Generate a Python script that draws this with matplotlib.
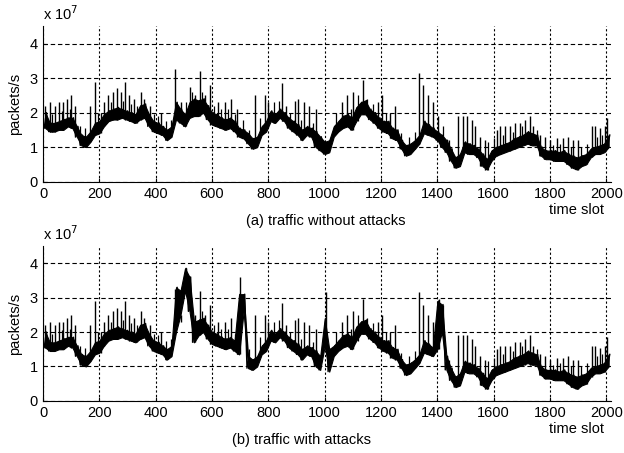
import matplotlib
matplotlib.use("Agg")
import matplotlib.pyplot as plt
import numpy as np

plt.rcParams['font.family'] = ['Liberation Sans', 'DejaVu Sans']

# band of the traffic (x 1e7 packets/s), one low/high pair per 16-slot block, slots 0..2000
block_start = np.arange(0, 2016, 16)
a_lo = [1.55, 1.45, 1.45, 1.50, 1.50, 1.60, 1.55, 1.30, 1.05, 1.00,
        1.15, 1.35, 1.40, 1.60, 1.75, 1.80, 1.80, 1.85, 1.80, 1.75,
        1.70, 1.80, 1.85, 1.60, 1.45, 1.40, 1.35, 1.20, 1.30, 1.80,
        1.70, 1.60, 1.85, 1.90, 1.90, 2.00, 1.80, 1.65, 1.60, 1.55,
        1.50, 1.55, 1.45, 1.30, 1.25, 1.10, 0.95, 1.00, 1.35, 1.45,
        1.75, 1.70, 1.85, 1.75, 1.55, 1.45, 1.35, 1.20, 1.35, 1.30,
        1.00, 0.90, 0.80, 0.85, 1.30, 1.45, 1.55, 1.60, 1.50, 1.75,
        1.95, 1.95, 1.80, 1.70, 1.55, 1.45, 1.40, 1.25, 1.20, 0.95,
        0.75, 0.80, 0.95, 1.10, 1.40, 1.35, 1.30, 1.20, 1.00, 0.85,
        0.60, 0.40, 0.45, 0.85, 0.80, 0.80, 0.70, 0.45, 0.35, 0.60,
        0.75, 0.80, 0.85, 0.90, 0.95, 1.00, 1.05, 1.10, 1.05, 1.05,
        0.75, 0.65, 0.65, 0.60, 0.60, 0.60, 0.50, 0.40, 0.35, 0.45,
        0.50, 0.70, 0.80, 0.80, 0.85, 1.00]
a_hi = [2.00, 1.70, 1.70, 1.75, 1.80, 1.85, 1.85, 1.60, 1.35, 1.30,
        1.45, 1.70, 1.75, 1.95, 2.05, 2.10, 2.15, 2.10, 2.05, 2.00,
        1.95, 2.20, 2.25, 1.95, 1.75, 1.70, 1.60, 1.50, 1.60, 2.30,
        2.10, 1.95, 2.30, 2.40, 2.35, 2.40, 2.20, 2.00, 1.95, 1.85,
        1.80, 1.85, 1.75, 1.55, 1.50, 1.40, 1.25, 1.30, 1.60, 1.75,
        2.05, 1.95, 2.10, 2.00, 1.85, 1.75, 1.65, 1.50, 1.60, 1.55,
        1.45, 1.30, 1.15, 1.20, 1.60, 1.75, 1.90, 1.95, 1.85, 2.15,
        2.30, 2.35, 2.10, 2.00, 1.85, 1.75, 1.75, 1.55, 1.50, 1.20,
        1.05, 1.10, 1.20, 1.35, 1.75, 1.65, 1.55, 1.45, 1.35, 1.20,
        0.95, 0.70, 0.80, 1.15, 1.10, 1.05, 0.95, 0.80, 0.65, 0.90,
        1.00, 1.05, 1.10, 1.15, 1.25, 1.30, 1.35, 1.45, 1.40, 1.35,
        1.00, 0.90, 0.90, 0.90, 0.85, 0.90, 0.80, 0.75, 0.70, 0.75,
        0.80, 0.95, 1.00, 1.05, 1.10, 1.35]

# tall spikes (slot, peak) seen in the clean traffic
a_spike_slot = [8, 24, 42, 58, 72, 86, 100, 112, 168, 186,
                204, 218, 232, 248, 262, 276, 290, 306, 322, 346,
                360, 380, 420, 470, 490, 520, 540, 557, 574, 592,
                620, 645, 668, 690, 753, 788, 800, 848, 862, 893,
                905, 928, 945, 970, 1062, 1080, 1102, 1135, 1190, 1202,
                1232, 1249, 1335, 1350, 1368, 1386, 1403, 1474, 1492, 1504,
                1522, 1534, 1552, 1569, 1611, 1622, 1640, 1658, 1675, 1693,
                1711, 1728, 1740, 1764, 1782, 1800, 1823, 1847, 1865, 1883,
                1900, 1948, 1959, 1977, 1995, 2001]
a_spike_peak = [2.2, 2.3, 2.2, 2.3, 2.3, 2.4, 2.5, 2.2, 2.2, 2.9,
                2.0, 2.3, 2.5, 2.6, 2.7, 2.6, 2.9, 2.5, 2.4, 2.6,
                2.4, 2.2, 2.0, 3.25, 2.3, 2.75, 2.5, 3.2, 2.5, 2.8,
                2.3, 2.3, 2.4, 2.1, 2.5, 2.5, 2.3, 2.85, 2.2, 2.35,
                2.4, 2.3, 2.2, 2.1, 2.3, 2.5, 2.6, 2.95, 2.3, 2.5,
                2.0, 2.2, 3.15, 2.8, 2.5, 2.3, 1.9, 1.9, 1.9, 1.9,
                1.8, 1.6, 1.3, 1.2, 1.5, 1.6, 1.6, 1.6, 1.7, 1.7,
                1.8, 1.9, 1.6, 1.35, 1.3, 1.2, 1.25, 1.25, 1.3, 1.2,
                1.2, 1.6, 1.6, 1.55, 1.6, 1.85]

# smaller excursions above the band
small_slot = [32, 66, 94, 130, 150, 196, 240, 284, 314, 334,
              394, 408, 436, 454, 506, 530, 566, 606, 632, 656,
              680, 710, 730, 770, 820, 836, 876, 916, 958, 1040,
              1092, 1118, 1150, 1170, 1216, 1270, 1300, 1320, 1420, 1440,
              1580, 1600, 1632, 1668, 1702, 1752, 1812, 1836, 1876, 1910,
              1930, 1968, 1986]
small_peak = [1.95, 2.05, 2.1, 1.6, 1.55, 2.0, 2.3, 2.35, 2.25, 2.2,
              1.95, 1.9, 1.75, 1.8, 2.3, 2.6, 2.6, 2.2, 2.1, 2.1,
              1.95, 1.8, 1.5, 1.85, 2.3, 2.35, 2.0, 1.8, 1.7, 2.0,
              2.1, 2.5, 2.4, 2.25, 2.0, 1.4, 1.3, 1.45, 1.6, 1.2,
              1.15, 1.25, 1.35, 1.45, 1.6, 1.5, 1.05, 1.1, 1.0, 1.0,
              1.1, 1.3, 1.35]

# traffic with attacks: blocks that differ from the clean traffic
b_block = [464, 480, 496, 512, 528, 688, 704, 720, 736, 992, 1008, 1392, 1408, 1424]
b_block_lo = [2.0, 2.5, 3.2, 2.6, 1.7, 1.35, 2.6, 0.95, 0.9, 1.6, 0.85, 1.5, 2.0, 0.9]
b_block_hi = [3.3, 3.2, 3.85, 3.6, 2.3, 3.1, 3.1, 1.3, 1.2, 2.4, 1.5, 2.9, 2.8, 1.3]
b_extra_slot = [506, 700, 1005, 1405]
b_extra_peak = [3.85, 3.6, 3.15, 2.95]

ticks_x = list(range(0, 2001, 200))
ticks_y = [0, 1, 2, 3, 4]


def panel(ax, lo, hi, spike_slot, spike_peak, caption, cap_x):
    lo = np.array(lo)
    hi = np.array(hi)
    ax.fill_between(block_start + 8, lo, hi, color='black', lw=0.8)
    zig_x = np.repeat(block_start, 2) + np.tile([4, 12], len(block_start))
    zig_y = np.empty(2 * len(lo))
    zig_y[0::2] = lo
    zig_y[1::2] = hi
    ax.plot(zig_x, zig_y, color='black', lw=1.0)
    idx = np.minimum(np.array(spike_slot) // 16, len(lo) - 1)
    ax.vlines(spike_slot, lo[idx], spike_peak, color='black', lw=1.0)
    sidx = np.minimum(np.array(small_slot) // 16, len(lo) - 1)
    ax.vlines(small_slot, lo[sidx], np.maximum(small_peak, hi[sidx]), color='black', lw=0.9)
    ax.set_xlim(0, 2016)
    ax.set_ylim(0, 4.5)
    ax.set_xticks(ticks_x)
    ax.set_yticks(ticks_y)
    ax.tick_params(direction='in', length=3, labelsize=10.5, pad=4)
    ax.xaxis.grid(True, color='black', lw=0.8, linestyle=(0, (2, 2)))
    ax.yaxis.grid(True, color='black', lw=0.8, linestyle=(0, (4, 2.5)))
    ax.set_axisbelow(False)
    for s in ['top', 'right']:
        ax.spines[s].set_visible(False)
    ax.set_ylabel('packets/s', fontsize=10.5, labelpad=5)
    ax.text(0, 1.02, r'x 10$^{7}$', transform=ax.transAxes, fontsize=10.5,
            ha='left', va='bottom')
    ax.text(0.988, -0.135, 'time slot', transform=ax.transAxes, fontsize=10.5,
            ha='right', va='top')
    ax.text(cap_x, -0.205, caption, transform=ax.transAxes, fontsize=10.5,
            ha='center', va='top')


fig = plt.figure(figsize=(6.24, 4.53), dpi=100)
ax1 = fig.add_axes([0.069, 0.599, 0.910, 0.343])
ax2 = fig.add_axes([0.069, 0.115, 0.910, 0.342])

panel(ax1, a_lo, a_hi, a_spike_slot, a_spike_peak, '(a) traffic without attacks', 0.497)

b_lo = list(a_lo)
b_hi = list(a_hi)
for s, l, h in zip(b_block, b_block_lo, b_block_hi):
    b_lo[s // 16] = l
    b_hi[s // 16] = h
panel(ax2, b_lo, b_hi, a_spike_slot + b_extra_slot, a_spike_peak + b_extra_peak,
      '(b) traffic with attacks', 0.455)

fig.savefig('out.png', dpi=100)
